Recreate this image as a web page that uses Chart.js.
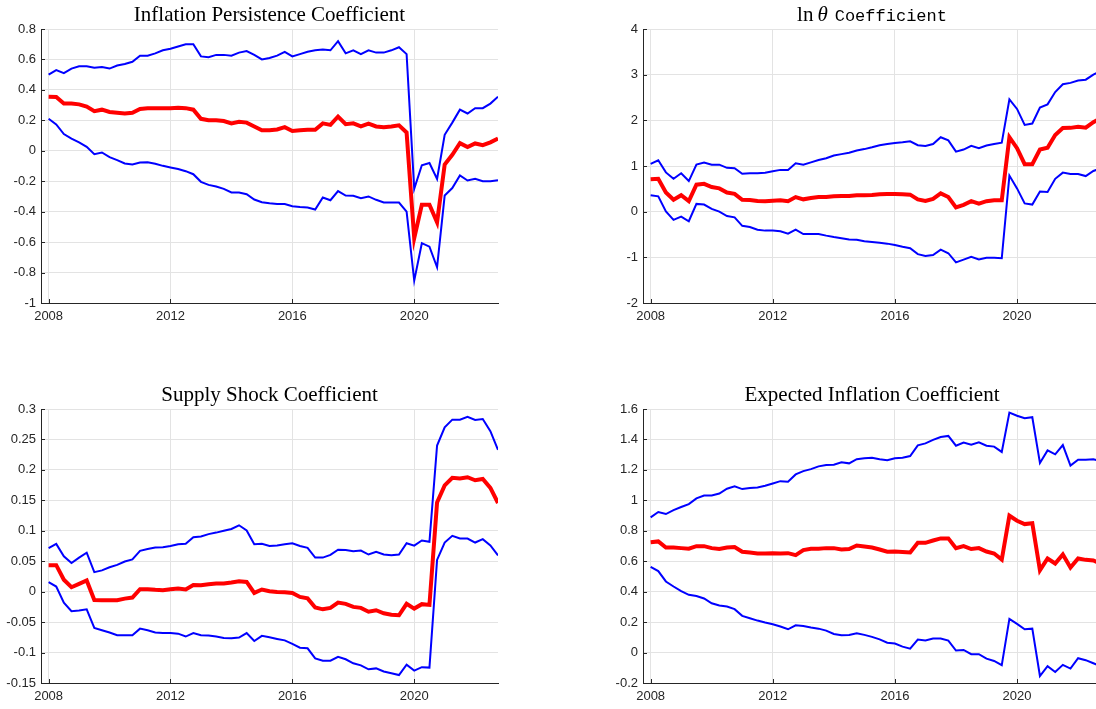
<!DOCTYPE html>
<html>
<head>
<meta charset="utf-8">
<script src="https://cdn.jsdelivr.net/npm/chart.js@4.4.1/dist/chart.umd.min.js"></script>
<style>
html, body { margin: 0; padding: 0; background: #fff; overflow: hidden; }
#fig { position: relative; width: 1096px; height: 709px; overflow: hidden; }
#fig canvas { position: absolute; }
</style>
</head>
<body>
<div id="fig">
  <canvas id="persist" width="500" height="330" style="left:0;top:0"></canvas>
  <canvas id="lntheta" width="502" height="330" style="left:601px;top:0"></canvas>
  <canvas id="supply" width="500" height="330" style="left:0;top:380px"></canvas>
  <canvas id="expinf" width="502" height="330" style="left:601px;top:380px"></canvas>
</div>
<script>
"use strict";

/* quarterly dates, 2008Q1 .. 2022Q4 */
var quarters = Array.from({ length: 60 }, function (_, i) { return 2008 + i / 4; });
var yearTicks = [2008, 2012, 2016, 2020];

/* Inflation persistence */
var persistMean = [0.355,0.353,0.31,0.31,0.305,0.29,0.26,0.27,0.255,0.25,0.245,0.25,
  0.275,0.28,0.28,0.28,0.28,0.283,0.28,0.27,0.21,0.20,0.20,0.195,0.18,0.19,0.185,0.16,
  0.135,0.135,0.14,0.155,0.13,0.135,0.138,0.138,0.18,0.17,0.225,0.175,0.18,0.16,0.178,0.16,
  0.155,0.16,0.167,0.12,-0.575,-0.355,-0.355,-0.47,-0.09,-0.026,0.05,0.024,0.048,0.037,0.055,0.08];
var persistUpper = [0.50,0.53,0.51,0.54,0.555,0.555,0.545,0.55,0.54,0.56,0.57,0.585,
  0.625,0.625,0.64,0.66,0.67,0.685,0.70,0.70,0.62,0.615,0.63,0.63,0.625,0.645,0.655,0.63,
  0.60,0.61,0.625,0.65,0.62,0.635,0.65,0.66,0.665,0.66,0.72,0.64,0.66,0.635,0.66,0.645,
  0.645,0.66,0.68,0.635,-0.25,-0.095,-0.08,-0.185,0.105,0.185,0.27,0.245,0.28,0.28,0.31,0.355];
var persistLower = [0.21,0.173,0.11,0.08,0.055,0.026,-0.022,-0.011,-0.042,-0.061,-0.083,-0.09,
  -0.077,-0.075,-0.085,-0.099,-0.11,-0.12,-0.134,-0.154,-0.204,-0.224,-0.235,-0.25,-0.274,-0.274,-0.285,-0.32,
  -0.338,-0.345,-0.35,-0.35,-0.364,-0.37,-0.373,-0.386,-0.307,-0.325,-0.265,-0.294,-0.296,-0.311,-0.30,-0.322,
  -0.34,-0.34,-0.34,-0.40,-0.853,-0.607,-0.63,-0.765,-0.294,-0.245,-0.162,-0.195,-0.184,-0.20,-0.20,-0.193];
var persistTicks = [-1,-0.8,-0.6,-0.4,-0.2,0,0.2,0.4,0.6,0.8];

/* ln theta */
var lnThetaMean = [0.71,0.72,0.42,0.26,0.36,0.23,0.59,0.61,0.54,0.51,0.42,0.39,
  0.26,0.255,0.235,0.23,0.24,0.25,0.23,0.32,0.27,0.30,0.32,0.32,0.335,0.345,0.345,0.36,
  0.36,0.365,0.38,0.385,0.385,0.38,0.373,0.27,0.235,0.28,0.40,0.32,0.095,0.15,0.23,0.175,
  0.23,0.25,0.25,1.63,1.39,1.04,1.04,1.36,1.40,1.68,1.83,1.835,1.86,1.84,1.96,2.05];
var lnThetaUpper = [1.045,1.125,0.86,0.72,0.84,0.67,1.03,1.075,1.03,1.03,0.96,0.95,
  0.83,0.84,0.84,0.85,0.885,0.915,0.915,1.06,1.03,1.08,1.13,1.17,1.23,1.26,1.29,1.34,
  1.37,1.41,1.455,1.48,1.505,1.52,1.54,1.455,1.44,1.48,1.63,1.56,1.315,1.36,1.44,1.39,
  1.45,1.48,1.51,2.46,2.25,1.90,1.93,2.28,2.35,2.62,2.79,2.82,2.87,2.89,3.00,3.08];
var lnThetaLower = [0.36,0.335,0.007,-0.18,-0.11,-0.21,0.17,0.155,0.06,0.0,-0.095,-0.125,
  -0.31,-0.335,-0.395,-0.415,-0.415,-0.43,-0.48,-0.395,-0.49,-0.49,-0.49,-0.525,-0.555,-0.58,-0.61,-0.615,
  -0.65,-0.665,-0.68,-0.70,-0.73,-0.77,-0.80,-0.93,-0.97,-0.95,-0.83,-0.91,-1.11,-1.05,-0.99,-1.045,
  -1.01,-1.01,-1.02,0.79,0.51,0.18,0.155,0.44,0.43,0.72,0.855,0.825,0.825,0.78,0.89,0.95];
var lnThetaTicks = [-2,-1,0,1,2,3,4];

/* Supply shock */
var supplyMean = [0.0435,0.0435,0.0195,0.0073,0.0128,0.0183,-0.0136,-0.0141,-0.0141,-0.0141,-0.0114,-0.0097,
  0.004,0.004,0.003,0.0024,0.004,0.005,0.0035,0.011,0.0106,0.0122,0.0133,0.0133,0.015,0.0172,0.016,-0.002,
  0.0035,0.0007,-0.0004,-0.001,-0.002,-0.0086,-0.011,-0.026,-0.029,-0.0266,-0.018,-0.020,-0.025,-0.0266,-0.033,-0.0305,
  -0.0355,-0.038,-0.0388,-0.020,-0.0278,-0.0205,-0.0217,0.1465,0.1745,0.187,0.186,0.188,0.183,0.185,0.1705,0.1455];
var supplyUpper = [0.0715,0.0785,0.058,0.047,0.056,0.064,0.032,0.035,0.040,0.044,0.0495,0.053,
  0.067,0.070,0.0725,0.073,0.075,0.078,0.0785,0.0895,0.0905,0.0945,0.097,0.100,0.103,0.109,0.1005,0.078,
  0.0785,0.075,0.076,0.078,0.0795,0.075,0.072,0.056,0.056,0.0605,0.069,0.0685,0.0665,0.0675,0.061,0.0655,
  0.061,0.060,0.061,0.0795,0.0755,0.084,0.082,0.240,0.270,0.2825,0.2825,0.287,0.282,0.2835,0.2635,0.233];
var supplyLower = [0.0155,0.0084,-0.018,-0.032,-0.031,-0.029,-0.0596,-0.0634,-0.067,-0.0716,-0.0716,-0.0716,
  -0.0607,-0.0634,-0.067,-0.068,-0.0677,-0.069,-0.0737,-0.068,-0.0716,-0.072,-0.0737,-0.076,-0.0765,-0.0754,-0.068,-0.081,
  -0.0726,-0.075,-0.0776,-0.080,-0.0857,-0.092,-0.093,-0.1095,-0.1133,-0.1133,-0.107,-0.111,-0.1176,-0.121,-0.1275,-0.126,
  -0.131,-0.134,-0.137,-0.120,-0.1297,-0.124,-0.1247,0.0522,0.0807,0.0917,0.0873,0.0873,0.0807,0.0862,0.0758,0.0594];
var supplyTicks = [-0.15,-0.1,-0.05,0,0.05,0.1,0.15,0.2,0.25,0.3];

/* Expected inflation */
var expMean = [0.725,0.73,0.69,0.69,0.686,0.682,0.699,0.699,0.686,0.68,0.69,0.693,
  0.662,0.657,0.651,0.651,0.653,0.651,0.653,0.64,0.673,0.682,0.682,0.686,0.686,0.677,0.68,0.703,
  0.697,0.69,0.677,0.662,0.664,0.66,0.657,0.721,0.721,0.736,0.75,0.75,0.686,0.699,0.68,0.686,
  0.664,0.651,0.611,0.899,0.866,0.844,0.85,0.541,0.618,0.585,0.644,0.559,0.618,0.609,0.605,0.583];
var expUpper = [0.888,0.923,0.91,0.936,0.956,0.975,1.013,1.032,1.032,1.045,1.076,1.092,
  1.074,1.081,1.085,1.096,1.111,1.126,1.122,1.17,1.192,1.205,1.223,1.232,1.234,1.25,1.243,1.27,
  1.277,1.28,1.27,1.263,1.276,1.28,1.291,1.361,1.374,1.397,1.416,1.423,1.359,1.379,1.366,1.381,
  1.359,1.353,1.318,1.576,1.556,1.539,1.546,1.245,1.328,1.302,1.363,1.228,1.267,1.267,1.27,1.256];
var expLower = [0.563,0.535,0.467,0.434,0.403,0.379,0.372,0.355,0.324,0.309,0.302,0.285,
  0.241,0.225,0.21,0.197,0.186,0.171,0.153,0.179,0.175,0.164,0.157,0.144,0.122,0.114,0.116,0.127,
  0.116,0.103,0.087,0.065,0.059,0.039,0.026,0.085,0.079,0.092,0.092,0.079,0.013,0.017,-0.011,-0.011,
  -0.04,-0.055,-0.083,0.221,0.188,0.153,0.157,-0.154,-0.09,-0.128,-0.081,-0.105,-0.037,-0.05,-0.07,-0.09];
var expTicks = [-0.2,0,0.2,0.4,0.6,0.8,1,1.2,1.4,1.6];

var AXIS = "#262626";
var GRID = "#e3e3e3";
var SERIF = '"Liberation Serif", "Times New Roman", serif';

function pts(vals) {
    return vals.map(function (v, i) { return { x: quarters[i], y: v }; });
}

/* title made of pieces with their own fonts, centred on the plot area */
var pieceTitle = {
    id: "pieceTitle",
    afterDraw: function (chart, args, opts) {
        var ctx = chart.ctx, area = chart.chartArea;
        var pieces = opts.pieces || [];
        ctx.save();
        ctx.fillStyle = "#000";
        ctx.textBaseline = "alphabetic";
        var total = 0;
        pieces.forEach(function (p) {
            ctx.font = p.font;
            p.w = ctx.measureText(p.text).width;
            total += p.w + (p.gap || 0);
        });
        var x = (area.left + area.right) / 2 - total / 2;
        pieces.forEach(function (p) {
            x += p.gap || 0;
            ctx.font = p.font;
            ctx.fillText(p.text, x, 21);
            x += p.w;
        });
        ctx.restore();
    }
};

/* short inward tick marks like the original figure */
var inTicks = {
    id: "inTicks",
    afterDraw: function (chart) {
        var ctx = chart.ctx, a = chart.chartArea;
        var xs = chart.scales.x, ys = chart.scales.y;
        ctx.save();
        ctx.strokeStyle = AXIS;
        ctx.lineWidth = 1;
        ctx.beginPath();
        ys.ticks.forEach(function (t) {
            var y = Math.round(ys.getPixelForValue(t.value)) + 0.5;
            ctx.moveTo(a.left, y);
            ctx.lineTo(a.left + 4, y);
        });
        xs.ticks.forEach(function (t) {
            var x = Math.round(xs.getPixelForValue(t.value)) + 0.5;
            ctx.moveTo(x, a.bottom);
            ctx.lineTo(x, a.bottom - 4);
        });
        ctx.stroke();
        ctx.restore();
    }
};

function makePanel(id, mean, upper, lower, yTicks, yWidth, pieces) {
    return new Chart(document.getElementById(id), {
        type: "line",
        data: {
            datasets: [
                { data: pts(mean), borderColor: "#ff0000", borderWidth: 4 },
                { data: pts(upper), borderColor: "#0000ff", borderWidth: 2 },
                { data: pts(lower), borderColor: "#0000ff", borderWidth: 2 }
            ]
        },
        options: {
            responsive: false,
            animation: false,
            layout: { padding: { top: 29, right: 2, left: 0, bottom: 0 } },
            elements: {
                point: { radius: 0 },
                line: { tension: 0, fill: false, borderJoinStyle: "miter" }
            },
            plugins: {
                legend: { display: false },
                tooltip: { enabled: false },
                title: { display: false },
                pieceTitle: { pieces: pieces }
            },
            scales: {
                x: {
                    type: "linear",
                    min: 2007.75,
                    max: 2022.75,
                    afterBuildTicks: function (s) {
                        s.ticks = yearTicks.map(function (v) { return { value: v }; });
                    },
                    afterFit: function (s) { s.height = 27; },
                    grid: { color: GRID, drawTicks: false },
                    border: { color: AXIS, width: 1 },
                    ticks: {
                        padding: 6,
                        color: AXIS,
                        maxRotation: 0,
                        font: { family: '"Liberation Sans", Arial, sans-serif', size: 13 },
                        callback: function (v) { return String(v); }
                    }
                },
                y: {
                    min: yTicks[0],
                    max: yTicks[yTicks.length - 1],
                    afterBuildTicks: function (s) {
                        s.ticks = yTicks.map(function (v) { return { value: v }; });
                    },
                    afterFit: function (s) { s.width = yWidth; },
                    grid: { color: GRID, drawTicks: false },
                    border: { color: AXIS, width: 1 },
                    ticks: {
                        padding: 5,
                        color: AXIS,
                        font: { family: '"Liberation Sans", Arial, sans-serif', size: 13 },
                        callback: function (v) { return String(Math.round(v * 1000) / 1000); }
                    }
                }
            }
        },
        plugins: [pieceTitle, inTicks]
    });
}

makePanel("persist", persistMean, persistUpper, persistLower, persistTicks, 41,
    [{ text: "Inflation Persistence Coefficient", font: "21px " + SERIF }]);

makePanel("lntheta", lnThetaMean, lnThetaUpper, lnThetaLower, lnThetaTicks, 42, [
    { text: "ln", font: "21px " + SERIF },
    { text: "\u03b8", font: "italic 21px " + SERIF, gap: 4 },
    { text: "Coefficient", font: '17px "Liberation Mono", "DejaVu Sans Mono", monospace', gap: 7 }
]);

makePanel("supply", supplyMean, supplyUpper, supplyLower, supplyTicks, 41,
    [{ text: "Supply Shock Coefficient", font: "21px " + SERIF }]);

makePanel("expinf", expMean, expUpper, expLower, expTicks, 42,
    [{ text: "Expected Inflation Coefficient", font: "21px " + SERIF }]);
</script>
</body>
</html>
